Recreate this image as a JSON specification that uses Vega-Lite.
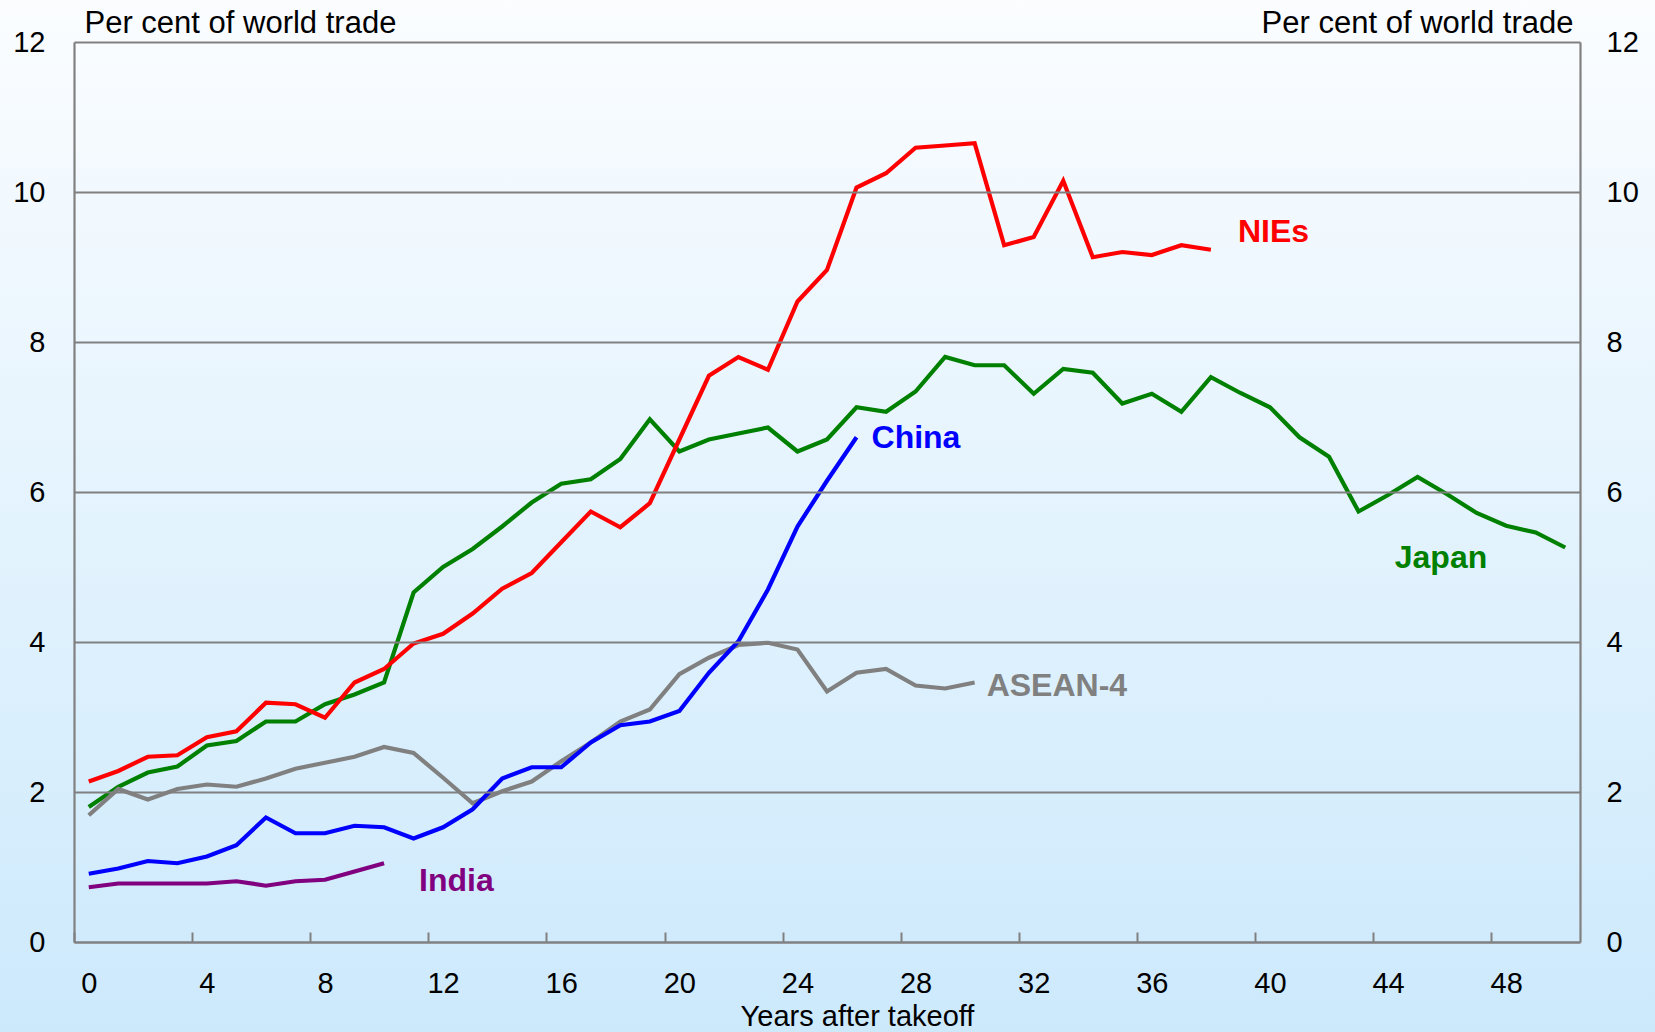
{
  "$schema": "https://vega.github.io/schema/vega-lite/v6.json",
  "width": 1506,
  "height": 900,
  "autosize": {"type": "none"},
  "padding": {"left": 74, "top": 42, "right": 75, "bottom": 90},
  "background": "#E3F3FE",
  "config": {
    "view": {"stroke": null},
    "font": "Liberation Sans",
    "axis": {
      "domainColor": "#808080",
      "domainWidth": 2.2,
      "gridColor": "#808080",
      "gridWidth": 2,
      "gridOpacity": 1,
      "tickColor": "#808080",
      "tickWidth": 2,
      "labelFont": "Liberation Sans",
      "labelFontSize": 29,
      "labelColor": "#000000",
      "titleFont": "Liberation Sans",
      "titleFontSize": 31,
      "titleFontWeight": "normal",
      "titleColor": "#000000"
    }
  },
  "datasets": {
    "trade": [
      {"series": "Japan", "year": 0, "value": 1.80},
      {"series": "Japan", "year": 1, "value": 2.07},
      {"series": "Japan", "year": 2, "value": 2.26},
      {"series": "Japan", "year": 3, "value": 2.34},
      {"series": "Japan", "year": 4, "value": 2.62},
      {"series": "Japan", "year": 5, "value": 2.68},
      {"series": "Japan", "year": 6, "value": 2.94},
      {"series": "Japan", "year": 7, "value": 2.94},
      {"series": "Japan", "year": 8, "value": 3.17},
      {"series": "Japan", "year": 9, "value": 3.30},
      {"series": "Japan", "year": 10, "value": 3.46},
      {"series": "Japan", "year": 11, "value": 4.66},
      {"series": "Japan", "year": 12, "value": 5.00},
      {"series": "Japan", "year": 13, "value": 5.24},
      {"series": "Japan", "year": 14, "value": 5.54},
      {"series": "Japan", "year": 15, "value": 5.86},
      {"series": "Japan", "year": 16, "value": 6.11},
      {"series": "Japan", "year": 17, "value": 6.17},
      {"series": "Japan", "year": 18, "value": 6.44},
      {"series": "Japan", "year": 19, "value": 6.97},
      {"series": "Japan", "year": 20, "value": 6.54},
      {"series": "Japan", "year": 21, "value": 6.70},
      {"series": "Japan", "year": 22, "value": 6.78},
      {"series": "Japan", "year": 23, "value": 6.86},
      {"series": "Japan", "year": 24, "value": 6.54},
      {"series": "Japan", "year": 25, "value": 6.70},
      {"series": "Japan", "year": 26, "value": 7.13},
      {"series": "Japan", "year": 27, "value": 7.07},
      {"series": "Japan", "year": 28, "value": 7.34},
      {"series": "Japan", "year": 29, "value": 7.80},
      {"series": "Japan", "year": 30, "value": 7.69},
      {"series": "Japan", "year": 31, "value": 7.69},
      {"series": "Japan", "year": 32, "value": 7.31},
      {"series": "Japan", "year": 33, "value": 7.64},
      {"series": "Japan", "year": 34, "value": 7.59},
      {"series": "Japan", "year": 35, "value": 7.18},
      {"series": "Japan", "year": 36, "value": 7.31},
      {"series": "Japan", "year": 37, "value": 7.07},
      {"series": "Japan", "year": 38, "value": 7.53},
      {"series": "Japan", "year": 39, "value": 7.32},
      {"series": "Japan", "year": 40, "value": 7.13},
      {"series": "Japan", "year": 41, "value": 6.73},
      {"series": "Japan", "year": 42, "value": 6.47},
      {"series": "Japan", "year": 43, "value": 5.74},
      {"series": "Japan", "year": 44, "value": 5.96},
      {"series": "Japan", "year": 45, "value": 6.20},
      {"series": "Japan", "year": 46, "value": 5.97},
      {"series": "Japan", "year": 47, "value": 5.72},
      {"series": "Japan", "year": 48, "value": 5.55},
      {"series": "Japan", "year": 49, "value": 5.46},
      {"series": "Japan", "year": 50, "value": 5.26},
      {"series": "NIEs", "year": 0, "value": 2.14},
      {"series": "NIEs", "year": 1, "value": 2.28},
      {"series": "NIEs", "year": 2, "value": 2.47},
      {"series": "NIEs", "year": 3, "value": 2.49},
      {"series": "NIEs", "year": 4, "value": 2.73},
      {"series": "NIEs", "year": 5, "value": 2.81},
      {"series": "NIEs", "year": 6, "value": 3.19},
      {"series": "NIEs", "year": 7, "value": 3.17},
      {"series": "NIEs", "year": 8, "value": 2.99},
      {"series": "NIEs", "year": 9, "value": 3.46},
      {"series": "NIEs", "year": 10, "value": 3.64},
      {"series": "NIEs", "year": 11, "value": 3.98},
      {"series": "NIEs", "year": 12, "value": 4.11},
      {"series": "NIEs", "year": 13, "value": 4.38},
      {"series": "NIEs", "year": 14, "value": 4.71},
      {"series": "NIEs", "year": 15, "value": 4.92},
      {"series": "NIEs", "year": 16, "value": 5.33},
      {"series": "NIEs", "year": 17, "value": 5.74},
      {"series": "NIEs", "year": 18, "value": 5.53},
      {"series": "NIEs", "year": 19, "value": 5.85},
      {"series": "NIEs", "year": 20, "value": 6.70},
      {"series": "NIEs", "year": 21, "value": 7.55},
      {"series": "NIEs", "year": 22, "value": 7.80},
      {"series": "NIEs", "year": 23, "value": 7.63},
      {"series": "NIEs", "year": 24, "value": 8.54},
      {"series": "NIEs", "year": 25, "value": 8.96},
      {"series": "NIEs", "year": 26, "value": 10.06},
      {"series": "NIEs", "year": 27, "value": 10.25},
      {"series": "NIEs", "year": 28, "value": 10.59},
      {"series": "NIEs", "year": 29, "value": 10.62},
      {"series": "NIEs", "year": 30, "value": 10.65},
      {"series": "NIEs", "year": 31, "value": 9.29},
      {"series": "NIEs", "year": 32, "value": 9.40},
      {"series": "NIEs", "year": 33, "value": 10.15},
      {"series": "NIEs", "year": 34, "value": 9.13},
      {"series": "NIEs", "year": 35, "value": 9.20},
      {"series": "NIEs", "year": 36, "value": 9.16},
      {"series": "NIEs", "year": 37, "value": 9.29},
      {"series": "NIEs", "year": 38, "value": 9.23},
      {"series": "ASEAN-4", "year": 0, "value": 1.69},
      {"series": "ASEAN-4", "year": 1, "value": 2.04},
      {"series": "ASEAN-4", "year": 2, "value": 1.90},
      {"series": "ASEAN-4", "year": 3, "value": 2.04},
      {"series": "ASEAN-4", "year": 4, "value": 2.10},
      {"series": "ASEAN-4", "year": 5, "value": 2.07},
      {"series": "ASEAN-4", "year": 6, "value": 2.18},
      {"series": "ASEAN-4", "year": 7, "value": 2.31},
      {"series": "ASEAN-4", "year": 8, "value": 2.39},
      {"series": "ASEAN-4", "year": 9, "value": 2.47},
      {"series": "ASEAN-4", "year": 10, "value": 2.60},
      {"series": "ASEAN-4", "year": 11, "value": 2.52},
      {"series": "ASEAN-4", "year": 12, "value": 2.19},
      {"series": "ASEAN-4", "year": 13, "value": 1.85},
      {"series": "ASEAN-4", "year": 14, "value": 2.01},
      {"series": "ASEAN-4", "year": 15, "value": 2.14},
      {"series": "ASEAN-4", "year": 16, "value": 2.41},
      {"series": "ASEAN-4", "year": 17, "value": 2.66},
      {"series": "ASEAN-4", "year": 18, "value": 2.94},
      {"series": "ASEAN-4", "year": 19, "value": 3.10},
      {"series": "ASEAN-4", "year": 20, "value": 3.57},
      {"series": "ASEAN-4", "year": 21, "value": 3.79},
      {"series": "ASEAN-4", "year": 22, "value": 3.96},
      {"series": "ASEAN-4", "year": 23, "value": 3.99},
      {"series": "ASEAN-4", "year": 24, "value": 3.90},
      {"series": "ASEAN-4", "year": 25, "value": 3.34},
      {"series": "ASEAN-4", "year": 26, "value": 3.59},
      {"series": "ASEAN-4", "year": 27, "value": 3.64},
      {"series": "ASEAN-4", "year": 28, "value": 3.42},
      {"series": "ASEAN-4", "year": 29, "value": 3.38},
      {"series": "ASEAN-4", "year": 30, "value": 3.46},
      {"series": "China", "year": 0, "value": 0.91},
      {"series": "China", "year": 1, "value": 0.98},
      {"series": "China", "year": 2, "value": 1.08},
      {"series": "China", "year": 3, "value": 1.05},
      {"series": "China", "year": 4, "value": 1.14},
      {"series": "China", "year": 5, "value": 1.29},
      {"series": "China", "year": 6, "value": 1.66},
      {"series": "China", "year": 7, "value": 1.45},
      {"series": "China", "year": 8, "value": 1.45},
      {"series": "China", "year": 9, "value": 1.55},
      {"series": "China", "year": 10, "value": 1.53},
      {"series": "China", "year": 11, "value": 1.38},
      {"series": "China", "year": 12, "value": 1.53},
      {"series": "China", "year": 13, "value": 1.77},
      {"series": "China", "year": 14, "value": 2.18},
      {"series": "China", "year": 15, "value": 2.33},
      {"series": "China", "year": 16, "value": 2.33},
      {"series": "China", "year": 17, "value": 2.66},
      {"series": "China", "year": 18, "value": 2.89},
      {"series": "China", "year": 19, "value": 2.94},
      {"series": "China", "year": 20, "value": 3.08},
      {"series": "China", "year": 21, "value": 3.59},
      {"series": "China", "year": 22, "value": 4.01},
      {"series": "China", "year": 23, "value": 4.70},
      {"series": "China", "year": 24, "value": 5.54},
      {"series": "China", "year": 25, "value": 6.15},
      {"series": "China", "year": 26, "value": 6.73},
      {"series": "India", "year": 0, "value": 0.73},
      {"series": "India", "year": 1, "value": 0.78},
      {"series": "India", "year": 2, "value": 0.78},
      {"series": "India", "year": 3, "value": 0.78},
      {"series": "India", "year": 4, "value": 0.78},
      {"series": "India", "year": 5, "value": 0.81},
      {"series": "India", "year": 6, "value": 0.75},
      {"series": "India", "year": 7, "value": 0.81},
      {"series": "India", "year": 8, "value": 0.83},
      {"series": "India", "year": 9, "value": 0.94},
      {"series": "India", "year": 10, "value": 1.05}
    ]
  },
  "data": {"name": "trade"},
  "layer": [
    {
      "data": {"values": [{}]},
      "mark": {
        "type": "rect",
        "clip": false,
        "color": {
          "gradient": "linear",
          "x1": 0, "y1": 0, "x2": 0, "y2": 1,
          "stops": [
            {"offset": 0, "color": "#FBFDFF"},
            {"offset": 1, "color": "#CCE9FC"}
          ]
        }
      },
      "encoding": {
        "x": {"datum": -3.1, "type": "quantitative", "scale": {"domain": [-0.5, 50.5], "nice": false, "zero": false}, "axis": null},
        "x2": {"datum": 53.1},
        "y": {"datum": -1.25, "type": "quantitative", "scale": {"domain": [0, 12], "nice": false}, "axis": null},
        "y2": {"datum": 12.6}
      }
    },
    {
      "mark": {"type": "line", "strokeWidth": 4.2},
      "encoding": {
        "x": {
          "field": "year", "type": "quantitative",
          "scale": {"domain": [-0.5, 50.5], "nice": false, "zero": false},
          "axis": {
            "zindex": 1,
            "orient": "bottom",
            "values": [0, 4, 8, 12, 16, 20, 24, 28, 32, 36, 40, 44, 48],
            "grid": false,
            "ticks": true,
            "tickSize": -10,
            "tickOffset": -14.76,
            "labelOffset": 14.76,
            "labelBaseline": "alphabetic",
            "labelPadding": 60,
            "labelFlush": false,
            "labelOverlap": false,
            "title": "Years after takeoff",
            "titleFontSize": 29,
            "titleX": 783,
            "titleY": 83,
            "titleAlign": "center",
            "titleBaseline": "alphabetic"
          }
        },
        "y": {
          "field": "value", "type": "quantitative",
          "scale": {"domain": [0, 12], "nice": false},
          "axis": {
            "zindex": 1,
            "orient": "left",
            "values": [0, 2, 4, 6, 8, 10, 12],
            "grid": true,
            "ticks": false,
            "labelPadding": 29,
            "title": "Per cent of world trade",
            "titleAngle": 0,
            "titleAlign": "left",
            "titleBaseline": "alphabetic",
            "titleX": 10,
            "titleY": -10
          }
        },
        "color": {
          "field": "series", "type": "nominal",
          "scale": {
            "domain": ["Japan", "NIEs", "ASEAN-4", "China", "India"],
            "range": ["#008000", "#FF0000", "#808080", "#0000FF", "#800080"]
          },
          "legend": null
        }
      }
    },
    {
      "transform": [{"filter": "datum.series == 'NIEs' && datum.year == 38"}],
      "mark": {"type": "text", "text": "NIEs", "align": "left", "baseline": "middle", "dx": 27, "dy": -18, "fontSize": 32, "fontWeight": "bold", "color": "#FF0000"},
      "encoding": {
        "x": {"field": "year", "type": "quantitative", "scale": {"domain": [-0.5, 50.5], "nice": false, "zero": false}, "axis": null},
        "y": {"field": "value", "type": "quantitative", "scale": {"domain": [0, 12], "nice": false}, "axis": null}
      }
    },
    {
      "transform": [{"filter": "datum.series == 'China' && datum.year == 26"}],
      "mark": {"type": "text", "text": "China", "align": "left", "baseline": "middle", "dx": 15, "dy": 1, "fontSize": 32, "fontWeight": "bold", "color": "#0000FF"},
      "encoding": {
        "x": {"field": "year", "type": "quantitative", "scale": {"domain": [-0.5, 50.5], "nice": false, "zero": false}, "axis": null},
        "y": {"field": "value", "type": "quantitative", "scale": {"domain": [0, 12], "nice": false}, "axis": null}
      }
    },
    {
      "transform": [{"filter": "datum.series == 'ASEAN-4' && datum.year == 30"}],
      "mark": {"type": "text", "text": "ASEAN-4", "align": "left", "baseline": "middle", "dx": 12, "dy": 3, "fontSize": 32, "fontWeight": "bold", "color": "#808080"},
      "encoding": {
        "x": {"field": "year", "type": "quantitative", "scale": {"domain": [-0.5, 50.5], "nice": false, "zero": false}, "axis": null},
        "y": {"field": "value", "type": "quantitative", "scale": {"domain": [0, 12], "nice": false}, "axis": null}
      }
    },
    {
      "transform": [{"filter": "datum.series == 'India' && datum.year == 10"}],
      "mark": {"type": "text", "text": "India", "align": "left", "baseline": "middle", "dx": 35, "dy": 18, "fontSize": 32, "fontWeight": "bold", "color": "#800080"},
      "encoding": {
        "x": {"field": "year", "type": "quantitative", "scale": {"domain": [-0.5, 50.5], "nice": false, "zero": false}, "axis": null},
        "y": {"field": "value", "type": "quantitative", "scale": {"domain": [0, 12], "nice": false}, "axis": null}
      }
    },
    {
      "transform": [{"filter": "datum.series == 'Japan' && datum.year == 50"}],
      "mark": {"type": "text", "text": "Japan", "align": "right", "baseline": "middle", "dx": -78, "dy": 10, "fontSize": 32, "fontWeight": "bold", "color": "#008000"},
      "encoding": {
        "x": {"field": "year", "type": "quantitative", "scale": {"domain": [-0.5, 50.5], "nice": false, "zero": false}, "axis": null},
        "y": {
          "field": "value", "type": "quantitative",
          "scale": {"domain": [0, 12], "nice": false},
          "axis": {
            "zindex": 1,
            "orient": "right",
            "values": [0, 2, 4, 6, 8, 10, 12],
            "grid": false,
            "ticks": false,
            "labelPadding": 26,
            "labelAlign": "left",
            "title": "Per cent of world trade",
            "titleAngle": 0,
            "titleAlign": "right",
            "titleBaseline": "alphabetic",
            "titleX": -7,
            "titleY": -10
          }
        }
      }
    }
  ],
  "resolve": {"axis": {"x": "independent", "y": "independent"}}
}
